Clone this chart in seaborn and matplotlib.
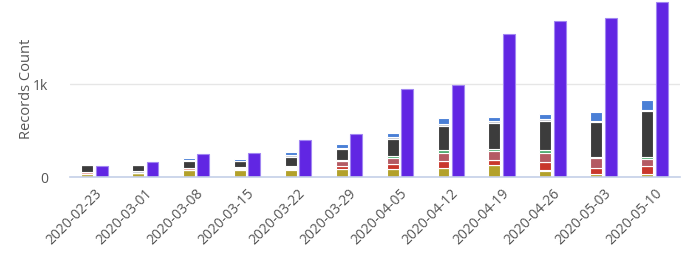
import numpy as np
import pandas as pd
import matplotlib
matplotlib.use("Agg")
import matplotlib.pyplot as plt
import seaborn as sns

weeks = ["2020-02-23", "2020-03-01", "2020-03-08", "2020-03-15", "2020-03-22", "2020-03-29",
         "2020-04-05", "2020-04-12", "2020-04-19", "2020-04-26", "2020-05-03", "2020-05-10"]

olive = [28, 43, 70, 75, 70, 86, 81, 102, 124, 61, 32, 32]
peach = [0, 0, 0, 0, 16, 0, 10, 0, 0, 11, 0, 0]
red = [0, 0, 0, 10, 10, 29, 54, 65, 56, 84, 68, 89]
salmon = [30, 0, 27, 17, 14, 0, 0, 0, 0, 0, 0, 0]
rose = [0, 0, 0, 0, 0, 54, 56, 95, 95, 102, 104, 72]
green = [0, 0, 0, 0, 0, 0, 25, 29, 27, 27, 8, 27]
silver_lo = [0, 20, 5, 5, 5, 17, 5, 0, 0, 0, 0, 0]
dark = [70, 65, 70, 60, 105, 115, 177, 258, 280, 322, 374, 486]
silver_hi = [0, 0, 10, 10, 15, 10, 22, 16, 16, 16, 13, 9]
blue = [0, 0, 18, 15, 35, 40, 43, 70, 48, 57, 103, 113]
total = [120, 165, 250, 260, 395, 465, 946, 993, 1538, 1677, 1710, 1882]

# bottom -> top
series = {
    "olive": olive, "peach": peach, "red": red, "salmon": salmon, "rose": rose,
    "green": green, "silver_lo": silver_lo, "dark": dark, "silver_hi": silver_hi, "blue": blue,
}
colors = {
    "olive": "#b3a12b", "peach": "#f0c38c", "red": "#c9372c", "salmon": "#e5948e",
    "rose": "#b45a63", "green": "#4aa96c", "silver_lo": "#c4c7cf", "dark": "#3c3c3c",
    "silver_hi": "#c4c7cf", "blue": "#4a7fd6",
}

sns.set_theme(style="white")
plt.rcParams["font.family"] = ["Open Sans", "DejaVu Sans"]

n = len(weeks)
idx = np.arange(n)
off = 0.145
bw = 0.235

rows = []
for name, vals in series.items():
    for i, v in enumerate(vals):
        rows.append({"x": i - off, "cat": name, "val": v})
df = pd.DataFrame(rows)
dft = pd.DataFrame({"x": idx + off, "val": total})

fig = plt.figure(figsize=(6.95, 2.55), dpi=100)
ax = fig.add_axes([0.101, 0.302, 0.877, 0.698])

# first hue level is drawn on top in a seaborn stack
hue_order = list(series.keys())[::-1]
sns.histplot(data=df, x="x", weights="val", hue="cat", hue_order=hue_order,
             palette=colors, multiple="stack", discrete=True, shrink=bw,
             alpha=1, edgecolor="white", linewidth=0.8, legend=False, ax=ax)
sns.histplot(data=dft, x="x", weights="val", discrete=True, shrink=bw,
             color="#6126e3", alpha=1, edgecolor="#a186f2", linewidth=0.8,
             legend=False, ax=ax)

ax.set_xlim(-0.47, 11.49)
ax.set_ylim(0, 1914)
ax.set_yticks([0, 1000])
ax.set_yticklabels(["0", "1k"])
ax.set_xticks(idx)
ax.set_xticklabels(weeks, rotation=45, ha="right", rotation_mode="anchor")
ax.tick_params(axis="both", length=0, colors="#555555", labelsize=10)
ax.tick_params(axis="y", pad=16)
ax.tick_params(axis="x", pad=6)
ax.set_xlabel("")
ax.set_ylabel("Records Count", color="#555555", fontsize=10.5)
ax.yaxis.set_label_coords(-0.06, 0.5)
ax.grid(axis="y", color="#e6e6e6", linewidth=1)
ax.set_axisbelow(True)
for s in ["top", "right", "left"]:
    ax.spines[s].set_visible(False)
ax.spines["bottom"].set_color("#c5d0e8")
ax.spines["bottom"].set_linewidth(1.2)

fig.savefig("out.png", dpi=100)
